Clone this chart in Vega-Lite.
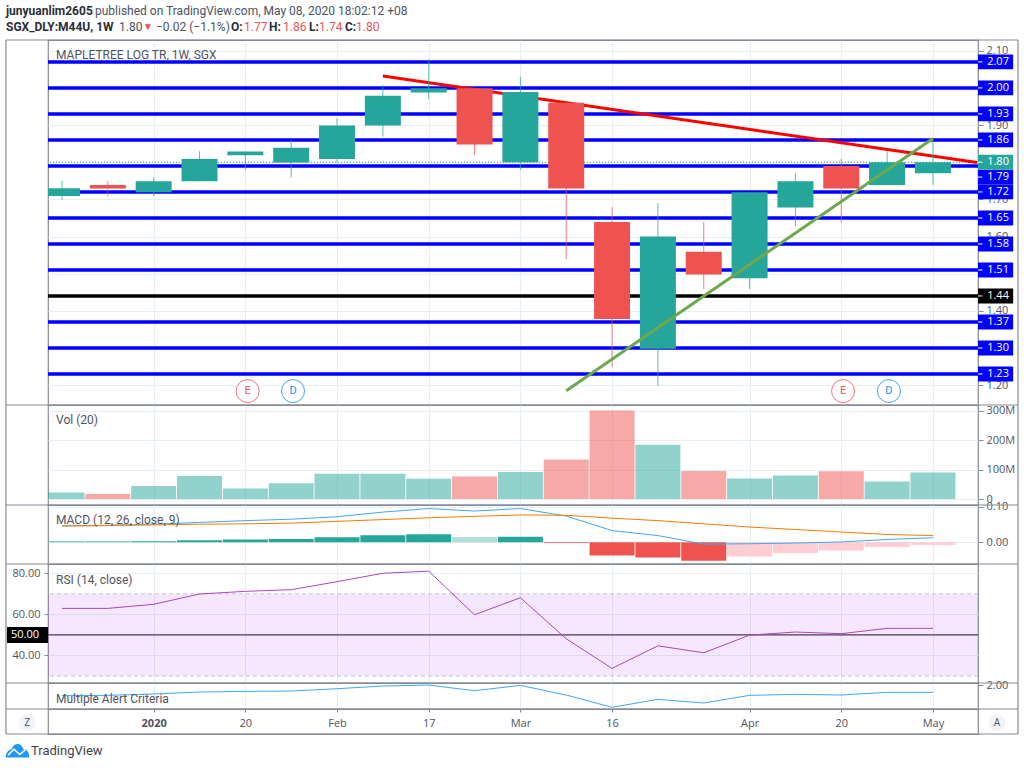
{
  "$schema": "https://vega.github.io/schema/vega-lite/v6.json",
  "background": "white",
  "padding": {"left": 4, "top": 0, "right": 0, "bottom": 0},
  "spacing": 0,
  "bounds": "flush",
  "resolve": {"scale": {"color": "independent"}},
  "config": {
    "view": {"stroke": "#868993", "strokeWidth": 1.2},
    "text": {"font": "Roboto"},
    "axis": {"labelFont": "Open Sans", "labelFontSize": 11, "labelColor": "#50535e", "tickColor": "#868993", "gridColor": "#e6eff4", "domain": false}
  },
  "datasets": {
    "weeks": [
      {"week": 0, "direction": "up", "open": 1.709, "high": 1.75, "low": 1.698, "close": 1.73, "volume": 22.7, "macd": 0.046, "signal": 0.046, "hist": 0.002, "histState": "upStrong", "rsi": 62.9, "alert": 1.656},
      {"week": 1, "direction": "down", "open": 1.739, "high": 1.749, "low": 1.709, "close": 1.729, "volume": 17, "macd": 0.048, "signal": 0.047, "hist": 0.002, "histState": "upStrong", "rsi": 62.9, "alert": 1.667},
      {"week": 2, "direction": "up", "open": 1.719, "high": 1.76, "low": 1.709, "close": 1.749, "volume": 44, "macd": 0.051, "signal": 0.049, "hist": 0.003, "histState": "upStrong", "rsi": 64.9, "alert": 1.711},
      {"week": 3, "direction": "up", "open": 1.749, "high": 1.829, "low": 1.749, "close": 1.809, "volume": 78, "macd": 0.056, "signal": 0.051, "hist": 0.006, "histState": "upStrong", "rsi": 69.9, "alert": 1.778},
      {"week": 4, "direction": "up", "open": 1.819, "high": 1.829, "low": 1.779, "close": 1.829, "volume": 36, "macd": 0.061, "signal": 0.052, "hist": 0.008, "histState": "upStrong", "rsi": 71.2, "alert": 1.8},
      {"week": 5, "direction": "up", "open": 1.799, "high": 1.86, "low": 1.759, "close": 1.839, "volume": 54, "macd": 0.065, "signal": 0.054, "hist": 0.009, "histState": "upStrong", "rsi": 72, "alert": 1.811},
      {"week": 6, "direction": "up", "open": 1.809, "high": 1.918, "low": 1.799, "close": 1.899, "volume": 86, "macd": 0.072, "signal": 0.059, "hist": 0.014, "histState": "upStrong", "rsi": 75.9, "alert": 1.889},
      {"week": 7, "direction": "up", "open": 1.899, "high": 2.008, "low": 1.869, "close": 1.979, "volume": 86, "macd": 0.085, "signal": 0.064, "hist": 0.02, "histState": "upStrong", "rsi": 80, "alert": 1.978},
      {"week": 8, "direction": "up", "open": 1.988, "high": 2.078, "low": 1.969, "close": 1.999, "volume": 69, "macd": 0.095, "signal": 0.069, "hist": 0.023, "histState": "upStrong", "rsi": 81, "alert": 2.011},
      {"week": 9, "direction": "down", "open": 1.999, "high": 1.999, "low": 1.819, "close": 1.848, "volume": 77, "macd": 0.088, "signal": 0.073, "hist": 0.015, "histState": "upWeak", "rsi": 59.8, "alert": 1.822},
      {"week": 10, "direction": "up", "open": 1.8, "high": 2.03, "low": 1.779, "close": 1.989, "volume": 92, "macd": 0.095, "signal": 0.077, "hist": 0.016, "histState": "upStrong", "rsi": 68.1, "alert": 2},
      {"week": 11, "direction": "down", "open": 1.96, "high": 1.96, "low": 1.539, "close": 1.729, "volume": 134, "macd": 0.074, "signal": 0.076, "hist": -0.002, "histState": "downStrong", "rsi": 48.1, "alert": 1.678},
      {"week": 12, "direction": "down", "open": 1.639, "high": 1.679, "low": 1.248, "close": 1.378, "volume": 300, "macd": 0.033, "signal": 0.068, "hist": -0.037, "histState": "downStrong", "rsi": 33.7, "alert": 1.267},
      {"week": 13, "direction": "up", "open": 1.298, "high": 1.69, "low": 1.198, "close": 1.6, "volume": 184, "macd": 0.019, "signal": 0.061, "hist": -0.043, "histState": "downStrong", "rsi": 44.7, "alert": 1.533},
      {"week": 14, "direction": "down", "open": 1.559, "high": 1.639, "low": 1.459, "close": 1.498, "volume": 95, "macd": -0.005, "signal": 0.052, "hist": -0.052, "histState": "downStrong", "rsi": 41.3, "alert": 1.411},
      {"week": 15, "direction": "up", "open": 1.488, "high": 1.719, "low": 1.459, "close": 1.719, "volume": 70, "macd": -0.004, "signal": 0.043, "hist": -0.04, "histState": "downWeak", "rsi": 49.9, "alert": 1.667},
      {"week": 16, "direction": "up", "open": 1.678, "high": 1.77, "low": 1.628, "close": 1.749, "volume": 80, "macd": -0.002, "signal": 0.036, "hist": -0.03, "histState": "downWeak", "rsi": 51.4, "alert": 1.7},
      {"week": 17, "direction": "down", "open": 1.79, "high": 1.809, "low": 1.638, "close": 1.729, "volume": 94, "macd": 0.001, "signal": 0.029, "hist": -0.023, "histState": "downWeak", "rsi": 50.6, "alert": 1.678},
      {"week": 18, "direction": "up", "open": 1.739, "high": 1.83, "low": 1.739, "close": 1.8, "volume": 60, "macd": 0.008, "signal": 0.022, "hist": -0.013, "histState": "downWeak", "rsi": 53.2, "alert": 1.767},
      {"week": 19, "direction": "up", "open": 1.77, "high": 1.86, "low": 1.739, "close": 1.8, "volume": 90, "macd": 0.013, "signal": 0.019, "hist": -0.0075, "histState": "downWeak", "rsi": 53.2, "alert": 1.767}
    ],
    "levels": [
      {"price": 2.07, "labelAt": 2.07, "labelTop": 2.09, "labelBottom": 2.05, "kind": "level"},
      {"price": 2.0, "labelAt": 2.0, "labelTop": 2.02, "labelBottom": 1.98, "kind": "level"},
      {"price": 1.93, "labelAt": 1.93, "labelTop": 1.95, "labelBottom": 1.91, "kind": "level"},
      {"price": 1.86, "labelAt": 1.86, "labelTop": 1.88, "labelBottom": 1.84, "kind": "level"},
      {"price": 1.79, "labelAt": 1.76, "labelTop": 1.78, "labelBottom": 1.74, "kind": "level"},
      {"price": 1.72, "labelAt": 1.72, "labelTop": 1.74, "labelBottom": 1.7, "kind": "level"},
      {"price": 1.65, "labelAt": 1.65, "labelTop": 1.67, "labelBottom": 1.63, "kind": "level"},
      {"price": 1.58, "labelAt": 1.58, "labelTop": 1.6, "labelBottom": 1.56, "kind": "level"},
      {"price": 1.51, "labelAt": 1.51, "labelTop": 1.53, "labelBottom": 1.49, "kind": "level"},
      {"price": 1.44, "labelAt": 1.44, "labelTop": 1.46, "labelBottom": 1.42, "kind": "pivot"},
      {"price": 1.37, "labelAt": 1.37, "labelTop": 1.39, "labelBottom": 1.35, "kind": "level"},
      {"price": 1.3, "labelAt": 1.3, "labelTop": 1.32, "labelBottom": 1.28, "kind": "level"},
      {"price": 1.23, "labelAt": 1.23, "labelTop": 1.25, "labelBottom": 1.21, "kind": "level"}
    ],
    "lastPrice": [{"price": 1.8, "labelAt": 1.8, "labelTop": 1.82, "labelBottom": 1.78, "kind": "last"}],
    "downTrend": [{"week": 7, "price": 2.032}, {"week": 19.96, "price": 1.799}],
    "upTrend": [{"week": 11, "price": 1.185}, {"week": 19, "price": 1.864}],
    "events": [
      {"week": 4.05, "kind": "E"},
      {"week": 5.04, "kind": "D"},
      {"week": 17.04, "kind": "E"},
      {"week": 18.04, "kind": "D"}
    ]
  },
  "vconcat": [
    {
      "width": 930,
      "height": 40,
      "view": {"stroke": null, "fill": "white"},
      "layer": [
        {"data": {"values": [{"t": "junyuanlim2605"}]}, "mark": {"type": "text", "align": "left", "fontSize": 12, "fontWeight": "bold", "color": "#2a2e39"}, "encoding": {"text": {"field": "t"}, "x": {"datum": 6, "scale": {"domain": [48, 978], "nice": false, "zero": false}, "axis": null}, "y": {"datum": 11, "scale": {"domain": [40, 0], "nice": false, "zero": false}, "axis": null}}},
        {"data": {"values": [{"t": "published on TradingView.com, May 08, 2020 18:02:12 +08"}]}, "mark": {"type": "text", "align": "left", "fontSize": 12, "color": "#4c525e"}, "encoding": {"text": {"field": "t"}, "x": {"datum": 95, "axis": null}, "y": {"datum": 11, "axis": null}}},
        {"data": {"values": [{"t": "SGX_DLY:M44U, 1W"}]}, "mark": {"type": "text", "align": "left", "fontSize": 12, "fontWeight": "bold", "color": "#2a2e39"}, "encoding": {"text": {"field": "t"}, "x": {"datum": 6, "axis": null}, "y": {"datum": 27, "axis": null}}},
        {"data": {"values": [{"t": "1.80"}]}, "mark": {"type": "text", "align": "left", "fontSize": 12, "color": "#4c525e"}, "encoding": {"text": {"field": "t"}, "x": {"datum": 119, "axis": null}, "y": {"datum": 27, "axis": null}}},
        {"data": {"values": [{"t": "▼"}]}, "mark": {"type": "text", "align": "left", "fontSize": 10, "color": "#ef5350"}, "encoding": {"text": {"field": "t"}, "x": {"datum": 143, "axis": null}, "y": {"datum": 27, "axis": null}}},
        {"data": {"values": [{"t": "−0.02 (−1.1%)"}]}, "mark": {"type": "text", "align": "left", "fontSize": 12, "color": "#4c525e"}, "encoding": {"text": {"field": "t"}, "x": {"datum": 156, "axis": null}, "y": {"datum": 27, "axis": null}}},
        {"data": {"values": [{"t": "O:"}]}, "mark": {"type": "text", "align": "left", "fontSize": 12, "fontWeight": "bold", "color": "#2a2e39"}, "encoding": {"text": {"field": "t"}, "x": {"datum": 231, "axis": null}, "y": {"datum": 27, "axis": null}}},
        {"data": {"values": [{"t": "1.77"}]}, "mark": {"type": "text", "align": "left", "fontSize": 12, "color": "#ef5350"}, "encoding": {"text": {"field": "t"}, "x": {"datum": 244, "axis": null}, "y": {"datum": 27, "axis": null}}},
        {"data": {"values": [{"t": "H:"}]}, "mark": {"type": "text", "align": "left", "fontSize": 12, "fontWeight": "bold", "color": "#2a2e39"}, "encoding": {"text": {"field": "t"}, "x": {"datum": 269, "axis": null}, "y": {"datum": 27, "axis": null}}},
        {"data": {"values": [{"t": "1.86"}]}, "mark": {"type": "text", "align": "left", "fontSize": 12, "color": "#ef5350"}, "encoding": {"text": {"field": "t"}, "x": {"datum": 283, "axis": null}, "y": {"datum": 27, "axis": null}}},
        {"data": {"values": [{"t": "L:"}]}, "mark": {"type": "text", "align": "left", "fontSize": 12, "fontWeight": "bold", "color": "#2a2e39"}, "encoding": {"text": {"field": "t"}, "x": {"datum": 309, "axis": null}, "y": {"datum": 27, "axis": null}}},
        {"data": {"values": [{"t": "1.74"}]}, "mark": {"type": "text", "align": "left", "fontSize": 12, "color": "#ef5350"}, "encoding": {"text": {"field": "t"}, "x": {"datum": 319, "axis": null}, "y": {"datum": 27, "axis": null}}},
        {"data": {"values": [{"t": "C:"}]}, "mark": {"type": "text", "align": "left", "fontSize": 12, "fontWeight": "bold", "color": "#2a2e39"}, "encoding": {"text": {"field": "t"}, "x": {"datum": 345, "axis": null}, "y": {"datum": 27, "axis": null}}},
        {"data": {"values": [{"t": "1.80"}]}, "mark": {"type": "text", "align": "left", "fontSize": 12, "color": "#ef5350"}, "encoding": {"text": {"field": "t"}, "x": {"datum": 356, "axis": null}, "y": {"datum": 27, "axis": null}}}
      ]
    },
    {
      "width": 930,
      "height": 365,
      "resolve": {"scale": {"color": "independent"}},
      "layer": [
        {
          "data": {"name": "levels"},
          "mark": {"type": "rule", "strokeWidth": 3.5},
          "encoding": {
            "y": {"field": "price", "type": "quantitative", "scale": {"domain": [1.1465, 2.129], "nice": false, "zero": false, "padding": 0}, "axis": {"title": null, "orient": "right", "values": [1.2, 1.3, 1.4, 1.5, 1.6, 1.7, 1.8, 1.9, 2.0, 2.1], "format": ".2f", "tickSize": 5, "labelPadding": 3, "grid": true, "labelOverlap": false}},
            "color": {"field": "kind", "scale": {"domain": ["level", "pivot"], "range": ["#0000ff", "#000000"]}, "legend": null}
          }
        },
        {
          "data": {"name": "lastPrice"},
          "mark": {"type": "rule", "color": "#26a69a", "strokeWidth": 1, "strokeDash": [1, 2]},
          "encoding": {"y": {"field": "price", "type": "quantitative"}}
        },
        {
          "data": {"name": "downTrend"},
          "mark": {"type": "line", "color": "#ff0000", "strokeWidth": 3, "clip": false},
          "encoding": {
            "x": {"field": "week", "type": "quantitative"},
            "y": {"field": "price", "type": "quantitative"}
          }
        },
        {
          "data": {"name": "weeks"},
          "mark": {"type": "rule", "strokeWidth": 1, "opacity": 0.75},
          "encoding": {
            "x": {"field": "week", "type": "quantitative", "scale": {"domain": [-0.305, 19.983], "nice": false, "zero": false, "padding": 0}, "axis": {"title": null, "values": [2, 4, 6, 8, 10, 12, 15, 17, 19], "grid": true, "labels": false, "ticks": false}},
            "y": {"field": "low", "type": "quantitative"},
            "y2": {"field": "high"},
            "color": {"field": "direction", "scale": {"domain": ["up", "down"], "range": ["#26a69a", "#ef5350"]}, "legend": null}
          }
        },
        {
          "data": {"name": "weeks"},
          "mark": {"type": "bar", "size": 36, "clip": true, "orient": "vertical"},
          "encoding": {
            "x": {"field": "week", "type": "quantitative"},
            "y": {"field": "open", "type": "quantitative"},
            "y2": {"field": "close"},
            "color": {"field": "direction", "scale": {"domain": ["up", "down"], "range": ["#26a69a", "#ef5350"]}, "legend": null}
          }
        },
        {
          "data": {"name": "upTrend"},
          "mark": {"type": "line", "color": "#6ea84e", "strokeWidth": 3},
          "encoding": {
            "x": {"field": "week", "type": "quantitative"},
            "y": {"field": "price", "type": "quantitative"}
          }
        },
        {
          "data": {"name": "events"},
          "mark": {"type": "point", "fill": "white", "filled": false, "opacity": 1, "size": 530, "strokeWidth": 1},
          "encoding": {
            "x": {"field": "week", "type": "quantitative"},
            "y": {"datum": 1.184},
            "color": {"field": "kind", "scale": {"domain": ["E", "D"], "range": ["#f7727f", "#42a5f5"]}, "legend": null}
          }
        },
        {
          "data": {"name": "events"},
          "mark": {"type": "text", "fontSize": 11},
          "encoding": {
            "x": {"field": "week", "type": "quantitative"},
            "y": {"datum": 1.184},
            "text": {"field": "kind"},
            "color": {"field": "kind", "scale": {"domain": ["E", "D"], "range": ["#ef5350", "#2196f3"]}, "legend": null}
          }
        },
        {
          "data": {"name": "levels"},
          "mark": {"type": "rect"},
          "encoding": {
            "x": {"datum": 19.983},
            "x2": {"datum": 20.75},
            "y": {"field": "labelTop", "type": "quantitative"},
            "y2": {"field": "labelBottom"},
            "color": {"field": "kind", "scale": {"domain": ["level", "pivot"], "range": ["#0000ff", "#000000"]}, "legend": null}
          }
        },
        {
          "data": {"name": "lastPrice"},
          "mark": {"type": "rect", "color": "#26a69a"},
          "encoding": {
            "x": {"datum": 19.983},
            "x2": {"datum": 20.75},
            "y": {"field": "labelTop", "type": "quantitative"},
            "y2": {"field": "labelBottom"}
          }
        },
        {
          "data": {"name": "levels"},
          "mark": {"type": "rule", "color": "white", "strokeWidth": 1},
          "encoding": {
            "x": {"datum": 19.983},
            "x2": {"datum": 20.08},
            "y": {"field": "labelAt", "type": "quantitative"}
          }
        },
        {
          "data": {"name": "lastPrice"},
          "mark": {"type": "rule", "color": "white", "strokeWidth": 1},
          "encoding": {
            "x": {"datum": 19.983},
            "x2": {"datum": 20.08},
            "y": {"field": "labelAt", "type": "quantitative"}
          }
        },
        {
          "data": {"name": "levels"},
          "mark": {"type": "text", "color": "white", "fontSize": 11, "font": "Open Sans"},
          "encoding": {
            "x": {"datum": 20.42},
            "y": {"field": "labelAt", "type": "quantitative"},
            "text": {"field": "price", "type": "quantitative", "format": ".2f"}
          }
        },
        {
          "data": {"name": "lastPrice"},
          "mark": {"type": "text", "color": "white", "fontSize": 11, "font": "Open Sans"},
          "encoding": {
            "x": {"datum": 20.42},
            "y": {"field": "labelAt", "type": "quantitative"},
            "text": {"field": "price", "type": "quantitative", "format": ".2f"}
          }
        },
        {
          "data": {"values": [{"t": "MAPLETREE LOG TR, 1W, SGX"}]},
          "mark": {"type": "text", "align": "left", "fontSize": 12, "color": "#50535e"},
          "encoding": {"x": {"datum": -0.13}, "y": {"datum": 2.089}, "text": {"field": "t"}}
        },
        {"data": {"values": [{}]}, "mark": {"type": "rule", "color": "#868993", "strokeWidth": 1.2}, "encoding": {"x": {"datum": -1.222}, "x2": {"datum": 20.855}, "y": {"datum": 2.129}}},
        {"data": {"values": [{}]}, "mark": {"type": "rule", "color": "#868993", "strokeWidth": 1.2}, "encoding": {"x": {"datum": -1.222}, "y": {"datum": 2.129}, "y2": {"datum": 1.1465}}},
        {"data": {"values": [{}]}, "mark": {"type": "rule", "color": "#868993", "strokeWidth": 1.2}, "encoding": {"x": {"datum": 20.855}, "y": {"datum": 2.129}, "y2": {"datum": 1.1465}}}
      ]
    },
    {
      "width": 930,
      "height": 100,
      "data": {"name": "weeks"},
      "layer": [
        {
          "mark": {"type": "bar", "size": 45, "clip": true, "opacity": 0.5, "orient": "vertical"},
          "encoding": {
            "x": {"field": "week", "type": "quantitative", "scale": {"domain": [-0.305, 19.983], "nice": false, "zero": false, "padding": 0}, "axis": {"title": null, "values": [2, 4, 6, 8, 10, 12, 15, 17, 19], "grid": true, "labels": false, "ticks": false}},
            "y": {"field": "volume", "type": "quantitative", "scale": {"domain": [-20, 319], "nice": false, "padding": 0}, "axis": {"title": null, "orient": "right", "tickCount": 3, "labelExpr": "datum.value == 0 ? '0' : datum.value + 'M'", "tickSize": 5, "labelPadding": 3, "grid": true, "labelOverlap": false}},
            "color": {"field": "direction", "scale": {"domain": ["up", "down"], "range": ["#26a69a", "#ef5350"]}, "legend": null}
          }
        },
        {
          "data": {"values": [{"t": "Vol (20)"}]},
          "mark": {"type": "text", "align": "left", "fontSize": 12, "color": "#50535e"},
          "encoding": {"x": {"datum": -0.13}, "y": {"datum": 268}, "text": {"field": "t"}}
        },
        {"data": {"values": [{}]}, "mark": {"type": "rule", "color": "#868993", "strokeWidth": 1.2}, "encoding": {"x": {"datum": -1.222}, "x2": {"datum": 20.855}, "y": {"datum": 319}}},
        {"data": {"values": [{}]}, "mark": {"type": "rule", "color": "#868993", "strokeWidth": 1.2}, "encoding": {"x": {"datum": -1.222}, "y": {"datum": 319}, "y2": {"datum": -20}}},
        {"data": {"values": [{}]}, "mark": {"type": "rule", "color": "#868993", "strokeWidth": 1.2}, "encoding": {"x": {"datum": 20.855}, "y": {"datum": 319}, "y2": {"datum": -20}}}
      ]
    },
    {
      "width": 930,
      "height": 59,
      "data": {"name": "weeks"},
      "layer": [
        {
          "mark": {"type": "bar", "size": 45, "clip": true, "orient": "vertical"},
          "encoding": {
            "x": {"field": "week", "type": "quantitative", "scale": {"domain": [-0.305, 19.983], "nice": false, "zero": false, "padding": 0}, "axis": {"title": null, "values": [2, 4, 6, 8, 10, 12, 15, 17, 19], "grid": true, "labels": false, "ticks": false}},
            "y": {"field": "hist", "type": "quantitative", "scale": {"domain": [-0.061, 0.105], "nice": false, "padding": 0}, "axis": {"title": null, "orient": "right", "values": [0, 0.1], "format": ".2f", "tickSize": 5, "labelPadding": 3, "grid": true}},
            "color": {"field": "histState", "scale": {"domain": ["upStrong", "upWeak", "downStrong", "downWeak"], "range": ["#26a69a", "#b2dfdb", "#ef5350", "#ffcdd2"]}, "legend": null}
          }
        },
        {
          "mark": {"type": "line", "color": "#42a5f5", "strokeWidth": 1},
          "encoding": {"x": {"field": "week", "type": "quantitative"}, "y": {"field": "macd", "type": "quantitative"}}
        },
        {
          "mark": {"type": "line", "color": "#f57c00", "strokeWidth": 1},
          "encoding": {"x": {"field": "week", "type": "quantitative"}, "y": {"field": "signal", "type": "quantitative"}}
        },
        {
          "data": {"values": [{"t": "MACD (12, 26, close, 9)"}]},
          "mark": {"type": "text", "align": "left", "fontSize": 12, "color": "#50535e"},
          "encoding": {"x": {"datum": -0.13}, "y": {"datum": 0.0626}, "text": {"field": "t"}}
        },
        {"data": {"values": [{}]}, "mark": {"type": "rule", "color": "#868993", "strokeWidth": 1.2}, "encoding": {"x": {"datum": -1.222}, "x2": {"datum": 20.855}, "y": {"datum": 0.105}}},
        {"data": {"values": [{}]}, "mark": {"type": "rule", "color": "#868993", "strokeWidth": 1.2}, "encoding": {"x": {"datum": -1.222}, "y": {"datum": 0.105}, "y2": {"datum": -0.061}}},
        {"data": {"values": [{}]}, "mark": {"type": "rule", "color": "#868993", "strokeWidth": 1.2}, "encoding": {"x": {"datum": 20.855}, "y": {"datum": 0.105}, "y2": {"datum": -0.061}}}
      ]
    },
    {
      "width": 930,
      "height": 119,
      "layer": [
        {
          "data": {"values": [{"upper": 70, "lower": 30}]},
          "mark": {"type": "rect", "color": "#9915ff", "opacity": 0.1},
          "encoding": {
            "y": {"field": "upper", "type": "quantitative", "scale": {"domain": [26.6, 84.5], "nice": false, "zero": false, "padding": 0}, "axis": {"title": null, "orient": "left", "values": [40, 60, 80], "format": ".2f", "tickSize": 4, "labelPadding": 4, "grid": true}},
            "y2": {"field": "lower"}
          }
        },
        {
          "data": {"values": [{"band": 70}, {"band": 30}]},
          "mark": {"type": "rule", "color": "#c9c3cf", "strokeWidth": 1, "strokeDash": [4, 3]},
          "encoding": {"y": {"field": "band", "type": "quantitative"}}
        },
        {
          "data": {"values": [{"band": 50}]},
          "mark": {"type": "rule", "color": "#4a3a55", "strokeWidth": 1.2},
          "encoding": {"y": {"field": "band", "type": "quantitative"}}
        },
        {
          "data": {"name": "weeks"},
          "mark": {"type": "line", "color": "#ab47bc", "strokeWidth": 1},
          "encoding": {
            "x": {"field": "week", "type": "quantitative", "scale": {"domain": [-0.305, 19.983], "nice": false, "zero": false, "padding": 0}, "axis": {"title": null, "values": [2, 4, 6, 8, 10, 12, 15, 17, 19], "grid": true, "labels": false, "ticks": false}},
            "y": {"field": "rsi", "type": "quantitative"}
          }
        },
        {
          "data": {"values": [{"band": 50}]},
          "mark": {"type": "bar", "size": 16, "orient": "horizontal", "color": "#000000"},
          "encoding": {"x": {"datum": -1.2}, "x2": {"datum": -0.305}, "y": {"field": "band", "type": "quantitative"}}
        },
        {
          "data": {"values": [{"band": 50}]},
          "mark": {"type": "text", "color": "white", "fontSize": 11, "align": "right", "font": "Open Sans"},
          "encoding": {"x": {"datum": -0.5}, "y": {"field": "band", "type": "quantitative"}, "text": {"field": "band", "type": "quantitative", "format": ".2f"}}
        },
        {
          "data": {"values": [{"t": "RSI (14, close)"}]},
          "mark": {"type": "text", "align": "left", "fontSize": 12, "color": "#50535e"},
          "encoding": {"x": {"datum": -0.13}, "y": {"datum": 76.7}, "text": {"field": "t"}}
        },
        {"data": {"values": [{}]}, "mark": {"type": "rule", "color": "#868993", "strokeWidth": 1.2}, "encoding": {"x": {"datum": -1.222}, "x2": {"datum": 20.855}, "y": {"datum": 84.5}}},
        {"data": {"values": [{}]}, "mark": {"type": "rule", "color": "#868993", "strokeWidth": 1.2}, "encoding": {"x": {"datum": -1.222}, "y": {"datum": 84.5}, "y2": {"datum": 26.6}}},
        {"data": {"values": [{}]}, "mark": {"type": "rule", "color": "#868993", "strokeWidth": 1.2}, "encoding": {"x": {"datum": 20.855}, "y": {"datum": 84.5}, "y2": {"datum": 26.6}}}
      ]
    },
    {
      "width": 930,
      "height": 26,
      "layer": [
        {
          "data": {"name": "weeks"},
          "mark": {"type": "line", "color": "#42a5f5", "strokeWidth": 1},
          "encoding": {
            "x": {
              "field": "week",
              "type": "quantitative",
              "scale": {"domain": [-0.305, 19.983], "nice": false, "zero": false, "padding": 0},
              "axis": {
                "title": null,
                "values": [2, 4, 6, 8, 10, 12, 15, 17, 19],
                "grid": true,
                "tickSize": 3,
                "labelPadding": 5,
                "labelExpr": "{'2':'2020','4':'20','6':'Feb','8':'17','10':'Mar','12':'16','15':'Apr','17':'20','19':'May'}[datum.value]",
                "labelFontWeight": {"condition": {"test": "datum.value == 2", "value": "bold"}, "value": "normal"}
              }
            },
            "y": {"field": "alert", "type": "quantitative", "scale": {"domain": [1.21, 2.08], "nice": false, "zero": false, "padding": 0}, "axis": {"title": null, "orient": "right", "values": [2], "format": ".2f", "tickSize": 5, "labelPadding": 3, "grid": false}}
          }
        },
        {
          "data": {"values": [{"t": "Multiple Alert Criteria"}]},
          "mark": {"type": "text", "align": "left", "fontSize": 12, "color": "#50535e"},
          "encoding": {"x": {"datum": -0.13}, "y": {"datum": 1.543}, "text": {"field": "t"}}
        },
        {"data": {"values": [{}]}, "mark": {"type": "rule", "color": "#868993", "strokeWidth": 1.2}, "encoding": {"x": {"datum": -1.222}, "x2": {"datum": 20.855}, "y": {"datum": 2.08}}},
        {"data": {"values": [{}]}, "mark": {"type": "rule", "color": "#868993", "strokeWidth": 1.2}, "encoding": {"x": {"datum": -1.222}, "y": {"datum": 2.08}, "y2": {"datum": 1.21}}},
        {"data": {"values": [{}]}, "mark": {"type": "rule", "color": "#868993", "strokeWidth": 1.2}, "encoding": {"x": {"datum": 20.855}, "y": {"datum": 2.08}, "y2": {"datum": 1.21}}}
      ]
    },
    {
      "width": 930,
      "height": 25,
      "layer": [
        {"data": {"values": [{}]}, "mark": {"type": "rule", "color": "#868993", "strokeWidth": 1.2}, "encoding": {"x": {"datum": -1.222, "scale": {"domain": [-0.305, 19.983], "nice": false, "zero": false}, "axis": null}, "x2": {"datum": 20.855}, "y": {"datum": 1, "scale": {"domain": [0, 1], "nice": false}, "axis": null}}},
        {"data": {"values": [{}]}, "mark": {"type": "rule", "color": "#868993", "strokeWidth": 1.2}, "encoding": {"x": {"datum": -1.222, "axis": null}, "x2": {"datum": 20.855}, "y": {"datum": 0, "axis": null}}},
        {"data": {"values": [{}]}, "mark": {"type": "rule", "color": "#868993", "strokeWidth": 1.2}, "encoding": {"x": {"datum": -1.222, "axis": null}, "y": {"datum": 1, "axis": null}, "y2": {"datum": 0}}},
        {"data": {"values": [{}]}, "mark": {"type": "rule", "color": "#868993", "strokeWidth": 1.2}, "encoding": {"x": {"datum": 20.855, "axis": null}, "y": {"datum": 1, "axis": null}, "y2": {"datum": 0}}},
        {"data": {"values": [{"button": "Z", "at": -0.76}, {"button": "A", "at": 20.4}]}, "mark": {"type": "point", "filled": true, "color": "#f0f3fa", "opacity": 1, "size": 290}, "encoding": {"x": {"field": "at", "type": "quantitative", "axis": null}, "y": {"datum": 0.46, "axis": null}}},
        {"data": {"values": [{"button": "Z", "at": -0.76}, {"button": "A", "at": 20.4}]}, "mark": {"type": "text", "fontSize": 10, "color": "#50535e"}, "encoding": {"x": {"field": "at", "type": "quantitative", "axis": null}, "y": {"datum": 0.46, "axis": null}, "text": {"field": "button"}}}
      ]
    },
    {
      "width": 930,
      "height": 34,
      "view": {"stroke": null},
      "layer": [
        {"data": {"values": [{}]}, "mark": {"type": "point", "filled": true, "color": "#2196f3", "opacity": 1, "size": 560, "shape": "M-1,0.55 C-1,0.1 -0.7,-0.1 -0.5,-0.15 C-0.3,-0.75 0.3,-0.75 0.5,-0.15 C0.8,-0.15 1,0.1 1,0.55 Z"}, "encoding": {"x": {"datum": 17.5, "scale": {"domain": [48, 978], "nice": false, "zero": false}, "axis": null}, "y": {"datum": 17, "scale": {"domain": [34, 0], "nice": false, "zero": false}, "axis": null}}},
        {"data": {"values": [{}]}, "mark": {"type": "point", "filled": false, "color": "white", "opacity": 1, "size": 560, "strokeWidth": 1.5, "shape": "M-0.8,0.35 L-0.3,-0.15 L0.2,0.3 L0.65,-0.1"}, "encoding": {"x": {"datum": 17.5, "axis": null}, "y": {"datum": 17, "axis": null}}},
        {"data": {"values": [{"t": "TradingView"}]}, "mark": {"type": "text", "align": "left", "fontSize": 13, "color": "#3c3f4a"}, "encoding": {"x": {"datum": 31, "axis": null}, "y": {"datum": 17, "axis": null}, "text": {"field": "t"}}}
      ]
    }
  ]
}
